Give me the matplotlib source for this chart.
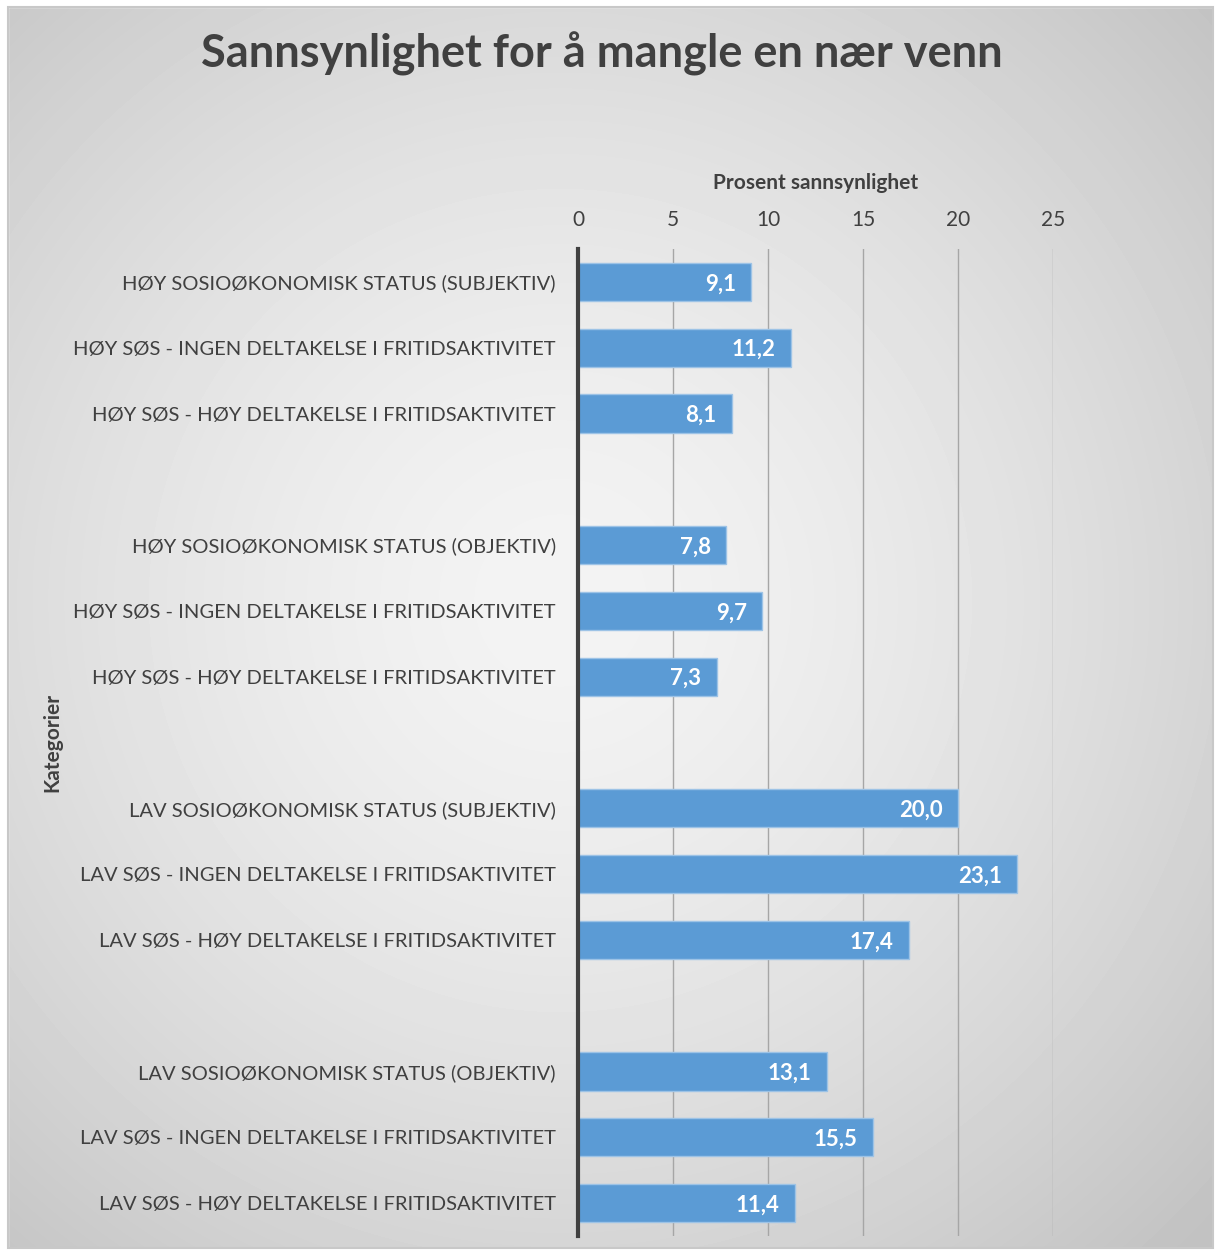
import numpy as np
import matplotlib.pyplot as plt
from matplotlib.patches import Rectangle

plt.rcParams['font.family'] = ['Lato', 'DejaVu Sans']

# categories, top to bottom ("" = empty slot between groups)
categories = [
    "HØY SOSIOØKONOMISK STATUS (SUBJEKTIV)",
    "HØY SØS - INGEN DELTAKELSE I FRITIDSAKTIVITET",
    "HØY SØS - HØY DELTAKELSE I FRITIDSAKTIVITET",
    "",
    "HØY SOSIOØKONOMISK STATUS (OBJEKTIV)",
    "HØY SØS - INGEN DELTAKELSE I FRITIDSAKTIVITET",
    "HØY SØS - HØY DELTAKELSE I FRITIDSAKTIVITET",
    "",
    "LAV SOSIOØKONOMISK STATUS (SUBJEKTIV)",
    "LAV SØS - INGEN DELTAKELSE I FRITIDSAKTIVITET",
    "LAV SØS - HØY DELTAKELSE I FRITIDSAKTIVITET",
    "",
    "LAV SOSIOØKONOMISK STATUS (OBJEKTIV)",
    "LAV SØS - INGEN DELTAKELSE I FRITIDSAKTIVITET",
    "LAV SØS - HØY DELTAKELSE I FRITIDSAKTIVITET",
]
values = [9.1, 11.2, 8.1, np.nan,
          7.8, 9.7, 7.3, np.nan,
          20.0, 23.1, 17.4, np.nan,
          13.1, 15.5, 11.4]
xticks = [0, 5, 10, 15, 20, 25]

fig = plt.figure(figsize=(12.15, 12.5), dpi=100)

# radial gradient background
bg = fig.add_axes([0, 0, 1, 1], zorder=-10)
yy, xx = np.mgrid[0:1250, 0:1215]
r = np.sqrt(((xx - 560) / 820.0) ** 2 + ((yy - 600) / 820.0) ** 2)
shade = np.clip(0.955 - 0.17 * r ** 1.5, 0.76, 0.96)
bg.imshow(shade, cmap='gray', vmin=0, vmax=1, extent=[0, 1215, 1250, 0], aspect='auto')
bg.add_patch(Rectangle((0, 0), 1215, 7, color='white'))
bg.add_patch(Rectangle((0, 0), 8, 1250, color='white'))
bg.add_patch(Rectangle((1213, 0), 2, 1250, color='white'))
bg.add_patch(Rectangle((0, 1248), 1215, 2, color='white'))
bg.add_patch(Rectangle((8, 7), 1205, 1241, fill=False, edgecolor='#c8c8c8', lw=1.5))
bg.set_xlim(0, 1215)
bg.set_ylim(1250, 0)
bg.axis('off')

ax = fig.add_axes([0.4757, 0.0112, 0.3910, 0.7896])
ax.patch.set_alpha(0)
y = np.arange(len(categories))
bars = ax.barh(y, values, height=0.58, color='#5B9BD5', edgecolor='#9DC3E6', linewidth=1, zorder=3)

for yi, v in zip(y, values):
    if np.isnan(v):
        continue
    ax.text(v - 0.8, yi, f"{v:.1f}".replace('.', ','), ha='right', va='center_baseline',
            color='white', fontsize=16, fontweight='bold', zorder=4)

ax.set_xlim(0, 25)
ax.set_ylim(len(categories) - 0.5, -0.5)
ax.set_xticks(xticks)
ax.set_yticks(y)
ax.set_yticklabels(categories, fontsize=14.5, color='#404040')
ax.xaxis.tick_top()
ax.xaxis.set_label_position('top')
ax.tick_params(axis='x', length=0, pad=14, labelsize=15, labelcolor='#404040')
ax.tick_params(axis='y', length=0, pad=16)
ax.set_xlabel("Prosent sannsynlighet", fontsize=15, fontweight='bold', color='#404040', labelpad=15)
ax.set_ylabel("Kategorier", fontsize=15, fontweight='bold', color='#404040')
ax.yaxis.set_label_coords(-1.085, 0.5)
ax.grid(axis='x', color='#a6a6a6', linewidth=1, zorder=0)
for s in ['top', 'right', 'bottom']:
    ax.spines[s].set_visible(False)
ax.spines['left'].set_color('#404040')
ax.spines['left'].set_linewidth(3)
ax.spines['left'].set_zorder(5)

fig.text(0.4955, 0.957, "Sannsynlighet for å mangle en nær venn", ha='center', va='center',
         fontsize=32.5, fontweight='bold', color='#404040')

fig.savefig("out.png", dpi=100)
